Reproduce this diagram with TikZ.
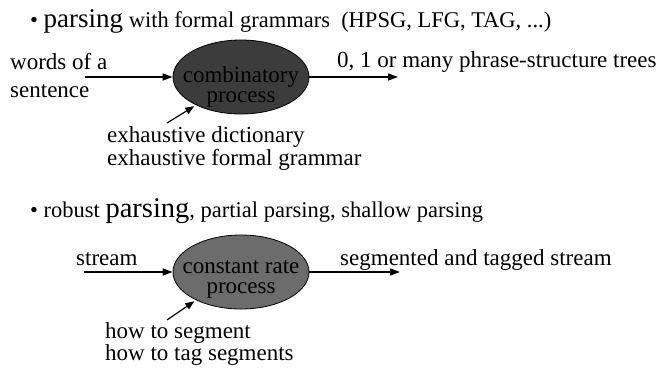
\documentclass[tikz,border=0pt]{standalone}
\usepackage{fontspec}
\setmainfont{Liberation Serif}
\usetikzlibrary{arrows.meta, shapes.geometric}
\definecolor{procdark}{HTML}{3C3C3C}
\definecolor{procgray}{HTML}{6C6C6C}
\begin{document}
\begin{tikzpicture}[x=1pt, y=-1pt,
	every node/.style={inner sep=0pt, font=\fontsize{23}{20}\selectfont},
	proc/.style={draw, ellipse, line width=0.8pt, minimum width=136pt, minimum height=74pt,
		inner xsep=-16pt, inner ysep=-10pt, align=center, font=\fontsize{23}{20.5}\selectfont},
	flow/.style={line width=1.4pt, -{Triangle[length=10pt, width=7pt]}},
	hint/.style={line width=1.2pt, -{Triangle[length=9pt, width=7pt]}, shorten >=2pt}]
	\useasboundingbox (0,0) rectangle (664,367);

	% First part: parsing
	\node[anchor=base west, font=\fontsize{22.5}{20}\selectfont] (title1) at (30,27) {\textbullet\ {\fontsize{27}{20}\selectfont parsing} with formal grammars\ \ (HPSG, LFG, TAG, ...)};

	\node[proc, fill=procdark] (comb) at (241,77) {\rule{0pt}{36pt}combinatory\\process};

	% Draw the text and arrows entering and exiting
	\node[anchor=base west, align=left, font=\fontsize{23}{28}\selectfont] (words) at (10,97) {words of a\\sentence};
	\coordinate (wordsin) at (85,77);
	\draw[flow] (wordsin) -- (comb.west);

	\coordinate (treesout) at (398,77);
	\draw[flow] (comb.east) -- (treesout);
	\node[anchor=base west] (trees) at (337,67) {0, 1 or many phrase-structure trees};

	% Draw the resources under the process
	\node[anchor=base west, align=left] (dict) at (107,165) {exhaustive dictionary\\exhaustive formal grammar};
	\coordinate (dictfrom) at (167,123);
	\draw[hint] (dictfrom) -- (comb.212);

	% Second part: robust parsing
	\node[anchor=base west, font=\fontsize{22.5}{20}\selectfont] (title2) at (30,217) {\textbullet\ robust {\fontsize{28.5}{20}\selectfont parsing}, partial parsing, shallow parsing};

	\node[proc, fill=procgray] (rate) at (241,272) {\rule{0pt}{28pt}constant rate\\process};

	% Draw the text and arrows entering and exiting
	\node[anchor=base west] (stream) at (76,265) {stream};
	\coordinate (streamin) at (84,272);
	\draw[flow] (streamin) -- (rate.west);

	\coordinate (taggedout) at (400,272);
	\draw[flow] (rate.east) -- (taggedout);
	\node[anchor=base west] (tagged) at (340,265) {segmented and tagged stream};

	% Draw the resources under the process
	\node[anchor=base west, align=left, font=\fontsize{23}{19}\selectfont] (howto) at (105,360) {how to segment\\how to tag segments};
	\coordinate (howfrom) at (167,320);
	\draw[hint] (howfrom) -- (rate.212);
\end{tikzpicture}
\end{document}
